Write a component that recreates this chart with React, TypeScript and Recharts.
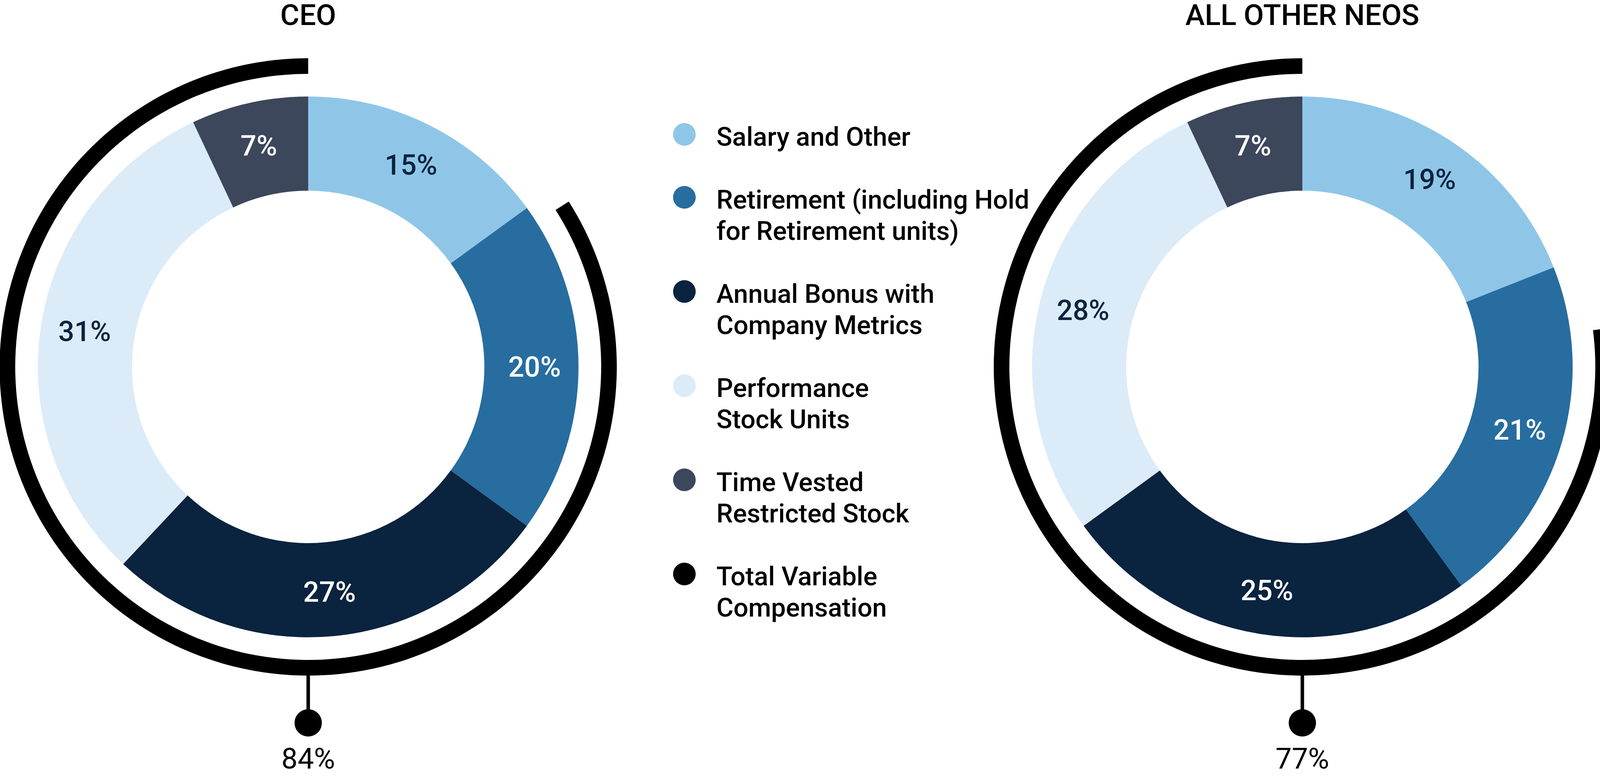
import React from 'react';
import { PieChart, Pie, Cell, Legend } from 'recharts';

// ---- data ----
const CATEGORIES = [
  'Salary and Other',
  'Retirement (including Hold for Retirement units)',
  'Annual Bonus with Company Metrics',
  'Performance Stock Units',
  'Time Vested Restricted Stock',
];
const LEGEND_LINES = [
  ['Salary and Other'],
  ['Retirement (including Hold', 'for Retirement units)'],
  ['Annual Bonus with', 'Company Metrics'],
  ['Performance', 'Stock Units'],
  ['Time Vested', 'Restricted Stock'],
  ['Total Variable', 'Compensation'],
];
const CEO_VALUES = [15, 20, 27, 31, 7];
const NEO_VALUES = [19, 21, 25, 28, 7];
const CEO_VARIABLE = 84;
const NEO_VARIABLE = 77;
const TITLES = ['CEO', 'ALL OTHER NEOS'];

// ---- styles ----
const COLORS = ['#8FC6E8', '#276DA0', '#0A233E', '#DBEBF8', '#3C475C'];
const LABEL_COLORS = ['#0A233E', '#FFFFFF', '#FFFFFF', '#0A233E', '#FFFFFF'];
const LEGEND_COLORS = [...COLORS, '#000000'];
const FONT = 'Roboto, "Noto Sans", sans-serif';
const RAD = Math.PI / 180;

const W = 4124;
const H = 1986;
const CY = 939;
const CX = [789, 3334];
const INNER = 451;
const OUTER = 692;
const RING_IN = 750;
const RING_OUT = 790;

const toRows = (vals: number[]) => CATEGORIES.map((name, i) => ({ name, value: vals[i] }));
const ringRows = (v: number) => [
  { name: 'gap', value: 100 - v },
  { name: 'Total Variable Compensation', value: v },
];

const segLabel = (props: any) => {
  const { cx, cy, midAngle, innerRadius, outerRadius, index, value } = props;
  const r = (innerRadius + outerRadius) / 2 + 8;
  const x = cx + r * Math.cos(-midAngle * RAD);
  const y = cy + r * Math.sin(-midAngle * RAD);
  return (
    <text
      x={x}
      y={y}
      textAnchor="middle"
      dominantBaseline="central"
      fill={LABEL_COLORS[index]}
      fontFamily={FONT}
      fontSize={72}
      fontWeight={500}
    >
      {`${value}%`}
    </text>
  );
};

const makeRingLabel = (title: string) => (props: any) => {
  const { cx, cy, outerRadius, index, value } = props;
  if (index !== 1) return <g />;
  const base = cy + outerRadius;
  return (
    <g>
      <text x={cx} y={64} textAnchor="middle" fill="#000" fontFamily={FONT} fontSize={75} fontWeight={500}>
        {title}
      </text>
      <line x1={cx} y1={base - 2} x2={cx} y2={cy + 880} stroke="#000" strokeWidth={9} />
      <circle cx={cx} cy={cy + 911} r={35} fill="#000" />
      <text x={cx} y={cy + 1028} textAnchor="middle" fill="#000" fontFamily={FONT} fontSize={74} fontWeight={400}>
        {`${value}%`}
      </text>
    </g>
  );
};

const renderLegend = () => (
  <div style={{ fontFamily: FONT, fontSize: 67, fontWeight: 500, color: '#000', lineHeight: '80px' }}>
    {LEGEND_LINES.map((lines, i) => (
      <div key={i} style={{ position: 'relative', paddingLeft: 111, marginBottom: 81, whiteSpace: 'nowrap' }}>
        <div
          style={{
            position: 'absolute',
            left: 0,
            top: 5,
            width: 58,
            height: 58,
            borderRadius: '50%',
            background: LEGEND_COLORS[i],
          }}
        />
        {lines.map((l, j) => (
          <div key={j}>{l}</div>
        ))}
      </div>
    ))}
  </div>
);

const DATASETS = [
  { values: CEO_VALUES, variable: CEO_VARIABLE },
  { values: NEO_VALUES, variable: NEO_VARIABLE },
];

export default function App() {
  return (
    <div style={{ position: 'absolute', left: 0, top: 0, width: W, height: H, background: '#fff', fontFamily: FONT }}>
      <PieChart width={W} height={H} margin={{ top: 0, right: 0, bottom: 0, left: 0 }}>
        {DATASETS.map((d, k) => (
          <Pie
            key={`donut-${k}`}
            data={toRows(d.values)}
            dataKey="value"
            nameKey="name"
            cx={CX[k]}
            cy={CY}
            innerRadius={INNER}
            outerRadius={OUTER}
            startAngle={90}
            endAngle={-270}
            stroke="none"
            label={segLabel}
            labelLine={false}
            isAnimationActive={false}
          >
            {d.values.map((_, i) => (
              <Cell key={i} fill={COLORS[i]} stroke="none" />
            ))}
          </Pie>
        ))}
        {DATASETS.map((d, k) => (
          <Pie
            key={`ring-${k}`}
            data={ringRows(d.variable)}
            dataKey="value"
            nameKey="name"
            cx={CX[k]}
            cy={CY}
            innerRadius={RING_IN}
            outerRadius={RING_OUT}
            startAngle={90}
            endAngle={-270}
            stroke="none"
            label={makeRingLabel(TITLES[k])}
            labelLine={false}
            isAnimationActive={false}
          >
            <Cell fill="none" stroke="none" />
            <Cell fill="#000000" stroke="none" />
          </Pie>
        ))}
        <Legend
          layout="vertical"
          align="center"
          verticalAlign="middle"
          content={renderLegend}
          wrapperStyle={{ left: 1723, top: 310, width: 900, height: 1400 }}
        />
      </PieChart>
    </div>
  );
}
